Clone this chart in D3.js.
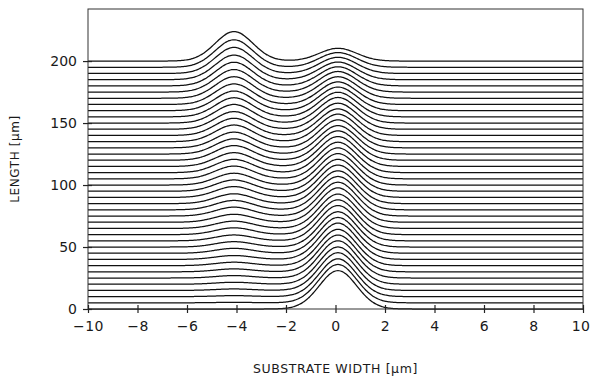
<!DOCTYPE html>
<html>
<head>
<meta charset="utf-8">
<script src="https://cdn.jsdelivr.net/npm/d3@7"></script>
<style>
  body { margin: 0; background: #fff; }
  text { font-family: "DejaVu Sans", sans-serif; fill: #1a1a1a; }
</style>
</head>
<body>
<div id="chart"></div>
<script>
// propagation lengths of the stacked profiles [um]
const lengths = [0, 5, 10, 15, 20, 25, 30, 35, 40, 45, 50, 55, 60, 65, 70, 75, 80, 85, 90, 95,
    100, 105, 110, 115, 120, 125, 130, 135, 140, 145, 150, 155, 160, 165, 170, 175, 180, 185, 190, 195, 200];

// peak height of the guide at x = -4 (in length-axis units)
const leftPeak = [0, 0.4, 0.8, 1.2, 1.6, 2, 2.4, 2.8, 3.2, 4, 4.4, 4.8, 5.6, 6, 6.5, 7.3, 7.7, 8.1, 8.9, 9.3,
    9.7, 10.5, 10.9, 11.3, 12.1, 12.5, 12.9, 13.7, 14.1, 14.5, 15.3, 15.7, 16.1, 16.9, 17.7, 18.5, 19.4, 20.2, 21.4, 22.6, 24.2];

// peak height of the guide at x = 0
const rightPeak = [31.5, 31.5, 31, 31, 30.6, 30.6, 30.2, 29.8, 29.8, 29.4, 29, 29, 28.6, 28.2, 28.2, 27.8, 27.4, 27, 26.6, 26.2,
    25.8, 25.4, 25, 24.6, 24.2, 23.4, 23, 22.6, 21.8, 21.4, 21, 20.2, 19.4, 18.5, 17.7, 16.9, 15.7, 14.5, 13.3, 12.1, 10.5];

// guide centres [um]
const guideCentres = [-4.1, 0.1];

// mode shape, from -3 um to +3 um around the guide centre
const modeSpan = [-3, 3];
const modeShape = [0, 0.001, 0.004, 0.01, 0.027, 0.062, 0.13, 0.242, 0.404, 0.6, 0.797, 0.945, 1,
    0.945, 0.797, 0.6, 0.404, 0.242, 0.13, 0.062, 0.027, 0.01, 0.004, 0.001, 0];

const xTicks = [-10, -8, -6, -4, -2, 0, 2, 4, 6, 8, 10];
const yTicks = [0, 50, 100, 150, 200];

const width = 590, height = 378;
const plotLeft = 88, plotRight = 583, plotTop = 9, plotBottom = 309;

const x = d3.scaleLinear().domain([-10, 10]).range([plotLeft, plotRight]);
const y = d3.scaleLinear().domain([0, 242]).range([plotBottom, plotTop]);
const modePos = d3.scaleLinear().domain(modeSpan).range([0, 1]).clamp(true);
const modeInterp = d3.interpolateBasis(modeShape);
const mode = v => modeInterp(modePos(v));

const svg = d3.select("#chart")
    .append("svg")
    .attr("width", width)
    .attr("height", height);

// profiles
const xs = d3.range(-10, 10.0001, 0.05);
const line = d3.line()
    .x(d => x(d[0]))
    .y(d => y(d[1]))
    .curve(d3.curveMonotoneX);

const profiles = lengths.map((z, i) => xs.map(v => [v,
    z + leftPeak[i] * mode(v - guideCentres[0]) + rightPeak[i] * mode(v - guideCentres[1])]));

svg.append("g")
    .selectAll("path")
    .data(profiles)
    .enter()
    .append("path")
    .attr("d", line)
    .attr("fill", "none")
    .attr("stroke", "#111")
    .attr("stroke-width", 1.25);

// frame
svg.append("rect")
    .attr("x", plotLeft)
    .attr("y", plotTop)
    .attr("width", plotRight - plotLeft)
    .attr("height", plotBottom - plotTop)
    .attr("fill", "none")
    .attr("stroke", "#333")
    .attr("stroke-width", 1);

// axes: outer ticks with labels, inner ticks without
const xAxis = svg.append("g")
    .attr("transform", `translate(0,${plotBottom})`)
    .call(d3.axisBottom(x).tickValues(xTicks).tickSize(4).tickPadding(8)
        .tickFormat(d => d < 0 ? "\u2212" + Math.abs(d) : d));
svg.append("g")
    .attr("transform", `translate(0,${plotBottom})`)
    .call(d3.axisBottom(x).tickValues(xTicks).tickSize(-4).tickFormat(""));

const yAxis = svg.append("g")
    .attr("transform", `translate(${plotLeft},0)`)
    .call(d3.axisLeft(y).tickValues(yTicks).tickSize(5).tickPadding(6));
svg.append("g")
    .attr("transform", `translate(${plotLeft},0)`)
    .call(d3.axisLeft(y).tickValues(yTicks).tickSize(-4).tickFormat(""));

svg.selectAll(".domain").remove();
svg.selectAll(".tick line").attr("stroke", "#222").attr("stroke-width", 1.2);
svg.selectAll(".tick text")
    .style("font-family", "DejaVu Sans, sans-serif")
    .style("font-size", "14px")
    .attr("fill", "#1a1a1a");
xAxis.selectAll(".tick text").style("letter-spacing", "0.5px");
// last label sits at the page edge; keep it inside
xAxis.selectAll(".tick text").filter(d => d === 10).attr("text-anchor", "end").attr("x", 7);

// titles
svg.append("text")
    .attr("x", (plotLeft + plotRight) / 2)
    .attr("y", 373)
    .attr("text-anchor", "middle")
    .style("font-size", "12.5px")
    .style("letter-spacing", "0.6px")
    .text("SUBSTRATE WIDTH [\u03bcm]");

svg.append("text")
    .attr("transform", `translate(19,${(plotTop + plotBottom) / 2}) rotate(-90)`)
    .attr("text-anchor", "middle")
    .style("font-size", "12px")
    .style("letter-spacing", "0.6px")
    .text("LENGTH [\u03bcm]");
</script>
</body>
</html>
